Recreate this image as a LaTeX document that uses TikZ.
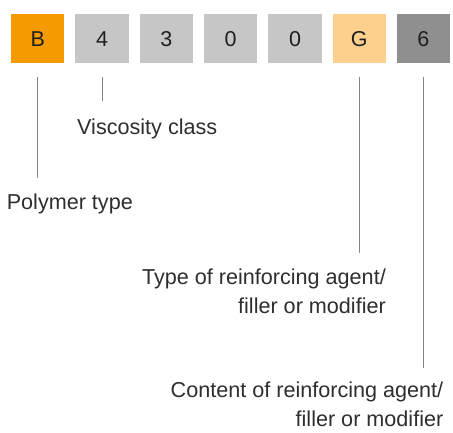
\documentclass[tikz,border=0pt]{standalone}
\usepackage{fontspec}
\setmainfont{Liberation Sans}
\definecolor{cOrange}{HTML}{F59B00}
\definecolor{cLight}{HTML}{FDD08E}
\definecolor{cGray}{HTML}{C6C6C6}
\definecolor{cDark}{HTML}{8F8F8F}
\definecolor{cText}{HTML}{2E2E2E}
\definecolor{cLine}{HTML}{858585}
\begin{document}
\begin{tikzpicture}[x=1pt,y=-1pt,
  digit/.style={minimum width=53.3pt,minimum height=49.3pt,inner sep=0pt,
    font=\fontsize{21.5}{25}\selectfont,text=black!88},
  lbl/.style={inner sep=0pt,text=cText,font=\fontsize{21.6}{29}\selectfont},
  conn/.style={draw=cLine,line width=0.9pt,shorten <=13.4pt}]
\useasboundingbox[fill=white] (0,0) rectangle (453,432);
\node[digit,fill=cOrange] (b)  at (37.7,38.7) {B};
\node[digit,fill=cGray]   (d4) at (102,38.7) {4};
\node[digit,fill=cGray]   (d3) at (166.3,38.7) {3};
\node[digit,fill=cGray]   (d0a) at (230.7,38.7) {0};
\node[digit,fill=cGray]   (d0b) at (295,38.7) {0};
\node[digit,fill=cLight]  (g)  at (359.3,38.7) {G};
\node[digit,fill=cDark]   (d6) at (423.3,38.7) {6};
\coordinate (eb) at (37.7,178.3);
\coordinate (e4) at (102,100.7);
\coordinate (eg) at (359.3,252.7);
\coordinate (e6) at (423.3,368.3);
\draw[conn] (b.south) -- (eb);
\draw[conn] (d4.south) -- (e4);
\draw[conn] (g.south) -- (eg);
\draw[conn] (d6.south) -- (e6);
\node[lbl,anchor=base west] (lv) at (77,134) {Viscosity class};
\node[lbl,anchor=base west] (lp) at (6.6,209.3) {Polymer type};
\node[lbl,anchor=base east,align=right] (lt) at (386,313.3) {Type of reinforcing agent/\\filler or modifier};
\node[lbl,anchor=base east,align=right] (lc) at (443.5,426.7) {Content of reinforcing agent/\\filler or modifier};
\end{tikzpicture}
\end{document}
